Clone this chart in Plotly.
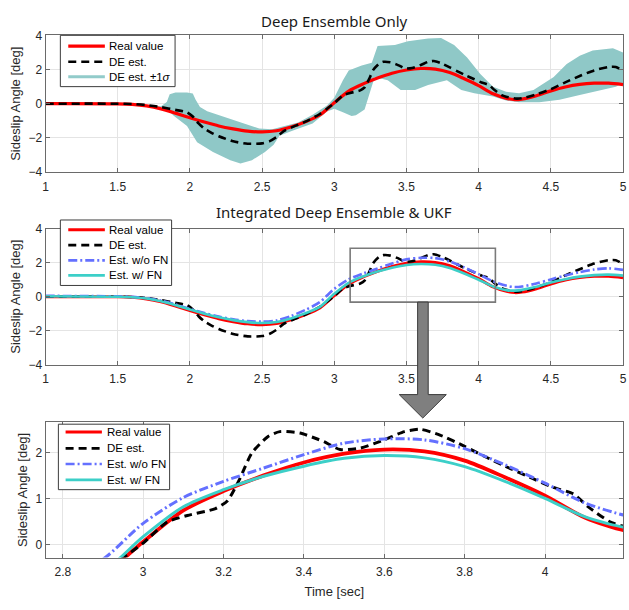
import plotly.graph_objects as go

W, H = 629, 610

# ---------------- data ----------------
t_real = [1.0, 1.5, 1.6, 1.7, 1.8, 1.9, 2.0, 2.1, 2.2, 2.3, 2.4, 2.5, 2.6, 2.7, 2.8, 2.9,
          3.0, 3.1, 3.2, 3.3, 3.4, 3.5, 3.6, 3.7, 3.8, 3.9, 4.0, 4.1, 4.2, 4.25, 4.3,
          4.4, 4.5, 4.6, 4.7, 4.8, 4.9, 5.0]
real_value = [0.0, -0.01, -0.04, -0.13, -0.30, -0.55, -0.82, -1.07, -1.30, -1.47, -1.60,
              -1.65, -1.58, -1.36, -1.06, -0.66, 0.06, 0.74, 1.16, 1.50, 1.78, 1.97, 2.06,
              2.02, 1.82, 1.46, 1.06, 0.58, 0.30, 0.24, 0.27, 0.47, 0.75, 0.98, 1.13, 1.20,
              1.20, 1.12]
est_wo_fn = [0.05, 0.02, -0.01, -0.09, -0.23, -0.46, -0.72, -0.96, -1.17, -1.33, -1.44,
             -1.47, -1.40, -1.14, -0.78, -0.32, 0.46, 1.02, 1.37, 1.66, 1.95, 2.20, 2.29,
             2.27, 2.08, 1.73, 1.33, 0.90, 0.63, 0.57, 0.60, 0.78, 1.02, 1.25, 1.45, 1.60,
             1.67, 1.58]
est_w_fn = [0.03, 0.0, -0.03, -0.11, -0.27, -0.50, -0.76, -1.00, -1.21, -1.38, -1.50,
            -1.55, -1.49, -1.28, -0.98, -0.60, 0.17, 0.82, 1.19, 1.48, 1.70, 1.87, 1.93,
            1.88, 1.69, 1.37, 1.00, 0.60, 0.37, 0.36, 0.40, 0.58, 0.83, 1.03, 1.18, 1.27,
            1.30, 1.24]

t_de = [1.0, 1.5, 1.6, 1.7, 1.8, 1.9, 1.98, 2.02, 2.06, 2.1, 2.15, 2.2, 2.3, 2.4, 2.5,
        2.55, 2.6, 2.65, 2.7, 2.8, 2.9, 2.95, 3.0, 3.06, 3.11, 3.18, 3.21, 3.24, 3.27,
        3.31, 3.34, 3.39, 3.43, 3.45, 3.49, 3.54, 3.6, 3.65, 3.69, 3.74, 3.8, 3.85, 3.9,
        3.97, 4.02, 4.07, 4.11, 4.16, 4.19, 4.26, 4.3, 4.4, 4.5, 4.6, 4.7, 4.8, 4.9,
        4.95, 5.0]
de_est = [0.0, 0.0, -0.02, -0.08, -0.20, -0.36, -0.50, -0.75, -1.15, -1.45, -1.70, -1.90,
          -2.20, -2.34, -2.32, -2.20, -1.95, -1.60, -1.40, -1.05, -0.60, -0.29, 0.03, 0.49,
          0.63, 0.78, 0.95, 1.42, 1.98, 2.34, 2.45, 2.42, 2.30, 2.23, 2.06, 2.09, 2.27,
          2.45, 2.50, 2.37, 2.13, 1.91, 1.70, 1.43, 1.24, 1.10, 0.80, 0.50, 0.41, 0.30,
          0.32, 0.55, 0.85, 1.25, 1.62, 1.95, 2.15, 2.15, 1.92]

t_band_upper = [1.0, 1.5, 1.8, 1.84, 1.86, 1.9, 1.98, 2.02, 2.04, 2.07, 2.12, 2.25, 2.39,
                2.48, 2.57, 2.66, 2.75, 2.85, 2.95, 3.0, 3.06, 3.10, 3.19, 3.26, 3.28,
                3.30, 3.42, 3.51, 3.65, 3.74, 3.83, 3.92, 4.01, 4.10, 4.19, 4.28, 4.38,
                4.52, 4.61, 4.70, 4.79, 4.93, 5.0]
band_upper = [0.03, 0.02, -0.15, 0.10, 0.55, 0.66, 0.65, 0.60, 0.23, -0.19, -0.44, -0.82,
              -1.20, -1.45, -1.50, -1.30, -1.10, -0.65, -0.10, 0.35, 1.37, 1.94, 2.23,
              2.40, 2.90, 3.37, 3.43, 3.66, 3.81, 3.85, 3.43, 2.70, 1.75, 0.99, 0.70, 0.61,
              0.80, 1.56, 2.32, 2.80, 3.12, 3.24, 2.99]
t_band_lower = [1.0, 1.5, 1.8, 1.83, 1.89, 1.98, 2.05, 2.16, 2.28, 2.35, 2.43, 2.52, 2.58,
                2.62, 2.71, 2.85, 2.95, 3.0, 3.06, 3.12, 3.15, 3.21, 3.24, 3.28, 3.37,
                3.46, 3.56, 3.65, 3.78, 3.88, 3.97, 4.10, 4.19, 4.28, 4.42, 4.56, 4.70,
                4.84, 4.95, 5.0]
band_lower = [-0.03, -0.02, -0.22, -0.25, -0.72, -1.30, -2.25, -2.82, -3.30, -3.50, -3.30,
              -2.82, -2.40, -1.87, -1.58, -1.15, -0.45, -0.30, -0.50, -0.72, -0.68, -0.34,
              0.40, 1.56, 1.37, 0.80, 0.80, 1.09, 1.37, 0.80, 0.61, 0.42, 0.19, 0.08, 0.08,
              0.23, 0.51, 0.80, 1.00, 1.18]

x_ticks_full = [1, 1.5, 2, 2.5, 3, 3.5, 4, 4.5, 5]
y_ticks_full = [-4, -2, 0, 2, 4]
x_ticks_zoom = [2.8, 3.0, 3.2, 3.4, 3.6, 3.8, 4.0]
y_ticks_zoom = [0, 1, 2]

# zoom window drawn on the middle plot
zoom_box_x = [3.11, 4.116]
zoom_box_y = [-0.32, 2.85]

# ---------------- styling ----------------
RED = '#FF0000'
BLACK = '#000000'
BLUE = '#6470FF'
CYAN = '#3CCFC8'
BAND = '#8FC8C7'
BAND_LEG = '#92CBCA'
DASH = '8px,5px'
DASHDOT = '9px,3px,2px,3px'
FONT = 'Liberation Sans, Arial, sans-serif'


def px(x):
    return x / W


def py(y):
    return 1 - y / H


fig = go.Figure()

# top plot
fig.add_trace(go.Scatter(
    x=t_band_upper + t_band_lower[::-1], y=band_upper + band_lower[::-1],
    fill='toself', fillcolor=BAND, line=dict(width=0), mode='lines',
    name='DE est. ±1σ', xaxis='x', yaxis='y', showlegend=False, hoverinfo='skip'))
fig.add_trace(go.Scatter(x=t_real, y=real_value, mode='lines', name='Real value',
                         line=dict(color=RED, width=3.2, shape='spline', smoothing=0.8),
                         xaxis='x', yaxis='y', showlegend=False))
fig.add_trace(go.Scatter(x=t_de, y=de_est, mode='lines', name='DE est.',
                         line=dict(color=BLACK, width=2.6, dash=DASH, shape='spline', smoothing=0.6),
                         xaxis='x', yaxis='y', showlegend=False))

# middle and bottom plots
for xa, ya, wr, wo in (('x2', 'y2', 3.0, 2.6), ('x3', 'y3', 3.8, 3.0)):
    fig.add_trace(go.Scatter(x=t_real, y=real_value, mode='lines', name='Real value',
                             line=dict(color=RED, width=wr, shape='spline', smoothing=0.8),
                             xaxis=xa, yaxis=ya, showlegend=False))
    fig.add_trace(go.Scatter(x=t_de, y=de_est, mode='lines', name='DE est.',
                             line=dict(color=BLACK, width=wo, dash=DASH, shape='spline', smoothing=0.6),
                             xaxis=xa, yaxis=ya, showlegend=False))
    fig.add_trace(go.Scatter(x=t_real, y=est_wo_fn, mode='lines', name='Est. w/o FN',
                             line=dict(color=BLUE, width=wo, dash=DASHDOT, shape='spline', smoothing=0.8),
                             xaxis=xa, yaxis=ya, showlegend=False))
    fig.add_trace(go.Scatter(x=t_real, y=est_w_fn, mode='lines', name='Est. w/ FN',
                             line=dict(color=CYAN, width=wo, shape='spline', smoothing=0.8),
                             xaxis=xa, yaxis=ya, showlegend=False))

axis_common = dict(showline=True, linecolor='#6a6a6a', linewidth=1, mirror='ticks',
                   ticks='inside', ticklen=4, tickcolor='#6a6a6a', showgrid=True,
                   gridcolor='#e4e4e4', gridwidth=1, zeroline=False,
                   ticklabeloverflow='allow',
                   tickfont=dict(family=FONT, size=12, color='#262626'))
x_common = dict(axis_common, ticklabelstandoff=3)
ytitle = dict(text='Sideslip Angle [deg]', font=dict(family=FONT, size=13, color='#262626'),
              standoff=4)

xdom = [px(43), px(627)]
fig.update_layout(
    width=W, height=H, margin=dict(l=0, r=0, t=0, b=0),
    paper_bgcolor='white', plot_bgcolor='white', showlegend=False,
    xaxis=dict(domain=xdom, range=[1, 5], tickvals=x_ticks_full, anchor='y', **x_common),
    yaxis=dict(domain=[py(169), py(29)], range=[-4, 4], tickvals=y_ticks_full, anchor='x',
               title=ytitle, **axis_common),
    xaxis2=dict(domain=xdom, range=[1, 5], tickvals=x_ticks_full, anchor='y2', **x_common),
    yaxis2=dict(domain=[py(366), py(227)], range=[-4, 4], tickvals=y_ticks_full, anchor='x2',
                title=ytitle, **axis_common),
    xaxis3=dict(domain=xdom, range=[2.757, 4.194], tickvals=x_ticks_zoom, anchor='y3',
                title=dict(text='Time [sec]', font=dict(family=FONT, size=13, color='#262626'),
                           standoff=8),
                **x_common),
    yaxis3=dict(domain=[py(563.5), py(425)], range=[-0.283, 2.653], tickvals=y_ticks_zoom,
                anchor='x3', title=ytitle, **axis_common),
)

shapes = []
annotations = []

# subplot titles
for txt, yc in (('Deep Ensemble Only', 14), ('Integrated Deep Ensemble & UKF', 210)):
    annotations.append(dict(text=txt, x=px(335), y=py(yc), xref='paper', yref='paper',
                            xanchor='center', yanchor='middle', showarrow=False,
                            font=dict(family='Noto Sans, Open Sans, sans-serif', size=15,
                                      color='#1a1a1a')))

# zoom window on middle plot
shapes.append(dict(type='rect', xref='x2', yref='y2', x0=zoom_box_x[0], x1=zoom_box_x[1],
                   y0=zoom_box_y[0], y1=zoom_box_y[1], line=dict(color='#7a7a7a', width=1.6),
                   fillcolor='rgba(0,0,0,0)', layer='above'))

# arrow from middle plot to zoomed plot
ax0, ax1, ay0, ay1 = 419.3, 430.0, 302.0, 396.7
hx0, hx1, htip_x, htip_y = 400.7, 448.3, 424.5, 420.7
path = (f"M{px(ax0)},{py(ay0)} L{px(ax1)},{py(ay0)} L{px(ax1)},{py(ay1)} "
        f"L{px(hx1)},{py(ay1)} L{px(htip_x)},{py(htip_y)} L{px(hx0)},{py(ay1)} "
        f"L{px(ax0)},{py(ay1)} Z")
shapes.append(dict(type='path', xref='paper', yref='paper', path=path,
                   fillcolor='#7f7f7f', line=dict(color='#3a3a3a', width=1), layer='above'))


def add_legend(box, rows, items, sx0, sx1, tx):
    x0, y0, x1, y1 = box
    shapes.append(dict(type='rect', xref='paper', yref='paper', x0=px(x0), x1=px(x1),
                       y0=py(y1), y1=py(y0), fillcolor='white',
                       line=dict(color='#3c3c3c', width=1), layer='above'))
    for yr, (label, color, width, dash) in zip(rows, items):
        shapes.append(dict(type='line', xref='paper', yref='paper', x0=px(sx0), x1=px(sx1),
                           y0=py(yr), y1=py(yr), layer='above',
                           line=dict(color=color, width=width, dash=dash)))
        annotations.append(dict(text=label, x=px(tx), y=py(yr), xref='paper', yref='paper',
                                xanchor='left', yanchor='middle', showarrow=False,
                                font=dict(family=FONT, size=11.5, color='#000000')))


add_legend((58, 29, 174, 81.5), [40, 56, 71.5],
           [('Real value', RED, 3.2, 'solid'), ('DE est.', BLACK, 2.6, DASH),
            ('DE est. ±1<i>σ</i>', BAND_LEG, 3.0, 'solid')], 66, 103, 105.5)
add_legend((58, 218, 170.5, 285), [228, 243.7, 259.3, 274.7],
           [('Real value', RED, 3.0, 'solid'), ('DE est.', BLACK, 2.6, DASH),
            ('Est. w/o FN', BLUE, 2.6, DASHDOT), ('Est. w/ FN', CYAN, 2.6, 'solid')],
           66, 103, 105.5)
add_legend((56, 427, 168.5, 494), [435, 451.7, 467.7, 484],
           [('Real value', RED, 3.2, 'solid'), ('DE est.', BLACK, 2.6, DASH),
            ('Est. w/o FN', BLUE, 2.6, DASHDOT), ('Est. w/ FN', CYAN, 2.6, 'solid')],
           63.3, 100, 103)

fig.update_layout(shapes=shapes, annotations=annotations)
fig.write_html('out.html')
